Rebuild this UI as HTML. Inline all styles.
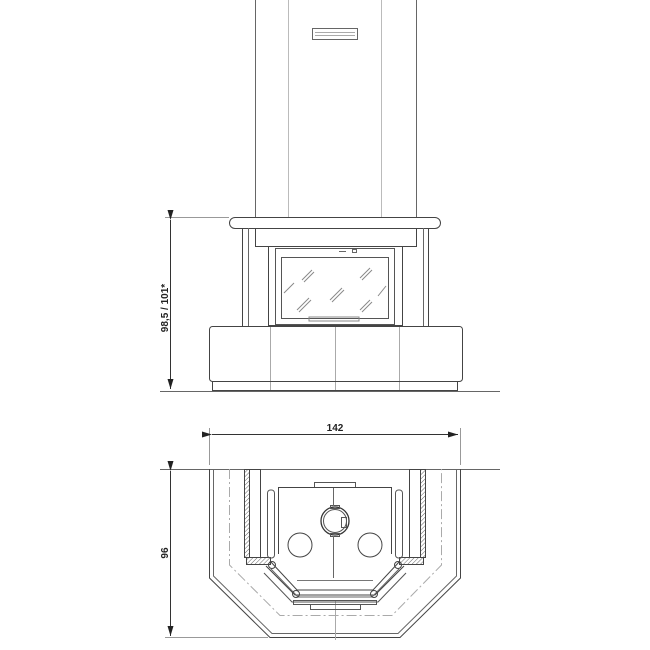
<!DOCTYPE html>
<html><head><style>html,body{margin:0;padding:0;background:#fff}svg{display:block}</style></head>
<body>
<svg width="650" height="650" viewBox="0 0 650 650" xmlns="http://www.w3.org/2000/svg" font-family="Liberation Sans, sans-serif">
<defs>
<marker id="a" markerWidth="10" markerHeight="6" refX="10" refY="3" orient="auto" markerUnits="userSpaceOnUse"><path d="M0,0 L10,3 L0,6 z" fill="#222"/></marker>
<pattern id="h" width="3" height="3" patternUnits="userSpaceOnUse" patternTransform="rotate(45)"><line x1="0" y1="0" x2="0" y2="3" stroke="#666" stroke-width="1"/></pattern>
</defs>
<g fill="none" stroke="#555" stroke-width="1">
<!-- chimney -->
<line x1="255.5" y1="0" x2="255.5" y2="218" stroke="#666"/>
<line x1="416.5" y1="0" x2="416.5" y2="218" stroke="#666"/>
<line x1="288.5" y1="0" x2="288.5" y2="218" stroke="#bbb"/>
<line x1="381.5" y1="0" x2="381.5" y2="218" stroke="#bbb"/>
<rect x="312.5" y="28.5" width="45" height="11" stroke="#666"/>
<line x1="315" y1="32.5" x2="355" y2="32.5" stroke="#aaa"/>
<line x1="315" y1="35.5" x2="355" y2="35.5" stroke="#aaa"/>
<!-- mantel -->
<rect x="229.5" y="217.5" width="211" height="11" rx="5.5" stroke="#444"/>
<rect x="255.5" y="228.5" width="161" height="18" stroke="#444"/>
<line x1="242.5" y1="228" x2="242.5" y2="326" stroke="#444"/>
<line x1="248.5" y1="228" x2="248.5" y2="326" stroke="#666"/>
<line x1="428.5" y1="228" x2="428.5" y2="326" stroke="#444"/>
<line x1="423.5" y1="228" x2="423.5" y2="326" stroke="#666"/>
<rect x="268.5" y="246.5" width="134" height="79" stroke="#444"/>
<rect x="275.5" y="248.5" width="119" height="76" stroke="#555"/>
<rect x="281.5" y="257.5" width="107" height="61" stroke="#555"/>
<rect x="309" y="317" width="50" height="4" stroke="#888"/>
<g stroke="#888">
<line x1="302" y1="280" x2="312" y2="270"/><line x1="304" y1="282" x2="314" y2="272"/>
<line x1="330" y1="300" x2="342" y2="288"/><line x1="332" y1="302" x2="344" y2="290"/>
<line x1="360" y1="278" x2="370" y2="268"/><line x1="362" y1="280" x2="372" y2="270"/>
<line x1="297" y1="310" x2="309" y2="298"/><line x1="299" y1="312" x2="311" y2="300"/>
<line x1="360" y1="310" x2="370" y2="300"/><line x1="362" y1="312" x2="372" y2="302"/>
<line x1="284" y1="293" x2="294" y2="283"/><line x1="378" y1="296" x2="386" y2="286"/>
</g>
<line x1="339" y1="251.5" x2="346" y2="251.5" stroke="#666"/>
<rect x="352.5" y="249.5" width="4" height="3" stroke="#666"/>
<!-- base -->
<rect x="209.5" y="326.5" width="253" height="55" rx="3" stroke="#444"/>
<line x1="270.5" y1="327" x2="270.5" y2="391" stroke="#aaa"/>
<line x1="335.5" y1="327" x2="335.5" y2="391" stroke="#aaa"/>
<line x1="399.5" y1="327" x2="399.5" y2="391" stroke="#aaa"/>
<rect x="212.5" y="381.5" width="245" height="9" stroke="#444"/>
<line x1="160" y1="391.5" x2="500" y2="391.5" stroke="#666"/>
<!-- vertical dim front -->
<line x1="165" y1="217.5" x2="229" y2="217.5" stroke="#999"/>
<line x1="170.5" y1="220" x2="170.5" y2="389" stroke="#333" marker-start="url(#a)" marker-end="url(#a)"/>
<!-- horizontal dim 142 -->
<line x1="209.5" y1="428" x2="209.5" y2="465" stroke="#999"/>
<line x1="460.5" y1="428" x2="460.5" y2="465" stroke="#999"/>
<line x1="212" y1="434.5" x2="458" y2="434.5" stroke="#333" marker-start="url(#a)" marker-end="url(#a)"/>
<!-- top view -->
<line x1="160" y1="469.5" x2="500" y2="469.5" stroke="#666"/>
<path d="M209.5,469 V578 L270,637.5 H400 L460.5,578 V469" stroke="#444"/>
<path d="M213.5,469 V576 L272,633.5 H398 L456.5,576 V469" stroke="#666"/>
<path d="M229.5,469 V565 L280,615.5 H392 L441.5,565 V469" stroke="#aaa" stroke-dasharray="10,3,2,3"/>
<line x1="335.5" y1="600" x2="335.5" y2="640" stroke="#aaa"/>
<line x1="170.5" y1="471" x2="170.5" y2="636" stroke="#333" marker-start="url(#a)" marker-end="url(#a)"/>
<line x1="165" y1="637.5" x2="268" y2="637.5" stroke="#999"/>
<!-- side walls -->
<rect x="244.5" y="469.5" width="5" height="88" fill="url(#h)" stroke="#444"/>
<rect x="249.5" y="469.5" width="11" height="88" stroke="#444"/>
<rect x="246.5" y="557.5" width="24" height="7" fill="url(#h)" stroke="#444"/>
<rect x="420.5" y="469.5" width="5" height="88" fill="url(#h)" stroke="#444"/>
<rect x="409.5" y="469.5" width="11" height="88" stroke="#444"/>
<rect x="399.5" y="557.5" width="24" height="7" fill="url(#h)" stroke="#444"/>
<!-- stove -->
<rect x="314.5" y="482.5" width="41" height="5" stroke="#555"/>
<path d="M278.5,554 V487.5 H391.5 V554" stroke="#444"/>
<circle cx="335" cy="521" r="14" stroke="#333" stroke-width="1.3"/>
<circle cx="335" cy="521" r="11.5" stroke="#555"/>
<rect x="341.5" y="517.5" width="5" height="10" stroke="#555"/>
<rect x="330.5" y="505.5" width="9" height="3" stroke="#555"/>
<rect x="330.5" y="533.5" width="9" height="3" stroke="#555"/>
<line x1="333.5" y1="488" x2="333.5" y2="506" stroke="#666"/>
<line x1="333.5" y1="536" x2="333.5" y2="578" stroke="#666"/>
<circle cx="300" cy="545" r="12" stroke="#444"/>
<circle cx="370" cy="545" r="12" stroke="#444"/>
<path d="M270,561 L297,590 H373 L400,561" stroke="#444"/>
<path d="M266,566 L295,595 H375 L404,566" stroke="#444"/>
<path d="M271,569 L298,597 H372 L399,569" stroke="#666"/>
<path d="M264,573 L292,602 H378 L406,573" stroke="#555"/>
<rect x="293.5" y="600.5" width="83" height="4" stroke="#555"/>
<rect x="310.5" y="604.5" width="50" height="5" stroke="#555"/>
<line x1="297" y1="580.5" x2="373" y2="580.5" stroke="#777"/>
<rect x="267.5" y="490" width="7" height="68" rx="3" stroke="#555"/>
<rect x="395.5" y="490" width="7" height="68" rx="3" stroke="#555"/>
<circle cx="272" cy="565" r="3.5" stroke="#444"/>
<circle cx="398" cy="565" r="3.5" stroke="#444"/>
<circle cx="296" cy="594" r="3.5" stroke="#444"/>
<circle cx="374" cy="594" r="3.5" stroke="#444"/>
</g>
<text x="335" y="431" font-size="10" font-weight="bold" text-anchor="middle" fill="#222">142</text>
<text transform="translate(168,308) rotate(-90)" font-size="10" font-weight="bold" text-anchor="middle" fill="#222">98,5 / 101*</text>
<text transform="translate(168,553) rotate(-90)" font-size="10" font-weight="bold" text-anchor="middle" fill="#222">96</text>
</svg>
</body></html>
